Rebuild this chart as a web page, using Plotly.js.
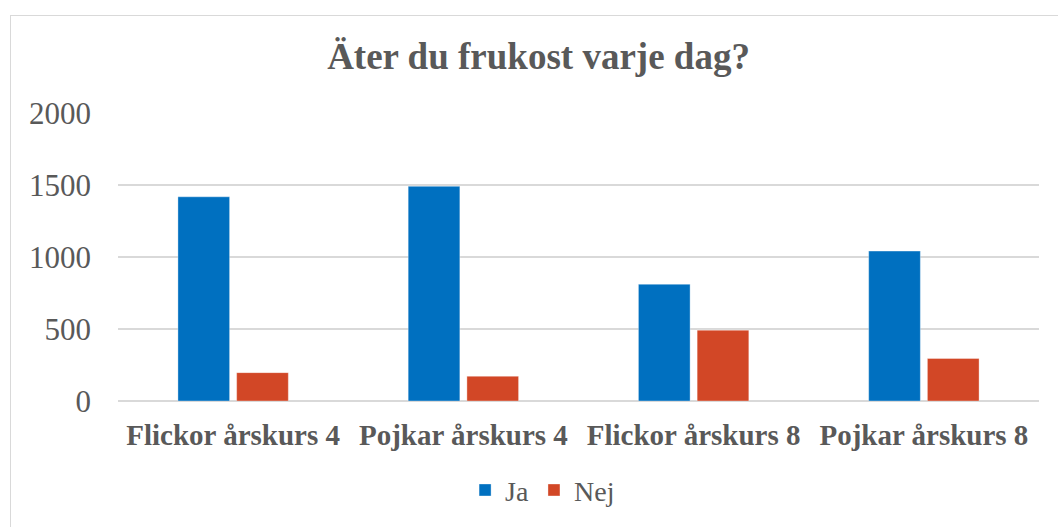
<!DOCTYPE html>
<html>
<head>
<meta charset="utf-8">
<script src="https://cdn.plot.ly/plotly-3.0.1.min.js"></script>
<style>
  html, body { margin: 0; padding: 0; background: #fff; }
  #wrap { position: relative; width: 1058px; height: 527px; overflow: hidden; }
  #chart { position: absolute; left: 0; top: 0; width: 1058px; height: 527px; }
  #frame { position: absolute; left: 10px; top: 15px; width: 1060px; height: 520px;
           border-left: 1.5px solid #d9d9d9; border-top: 1.5px solid #d9d9d9; pointer-events: none; }
</style>
</head>
<body>
<div id="wrap">
  <div id="chart"></div>
  <div id="frame"></div>
</div>
<script>
const categories = ["Flickor årskurs 4", "Pojkar årskurs 4", "Flickor årskurs 8", "Pojkar årskurs 8"];
const jaValues = [1418, 1491, 811, 1041];
const nejValues = [197, 172, 492, 295];
const yTicks = [0, 500, 1000, 1500, 2000];

const font = "Times New Roman, Liberation Serif, Times, DejaVu Serif, serif";
const gray = "#595959";

const traces = [
  { type: "bar", name: "Ja", x: categories, y: jaValues,
    marker: { color: "#0070C0", line: { color: "rgba(255,255,255,0.35)", width: 1 } } },
  { type: "bar", name: "Nej", x: categories, y: nejValues,
    marker: { color: "#D24726", line: { color: "rgba(255,255,255,0.35)", width: 1 } } }
];

const layout = {
  width: 1058, height: 527,
  paper_bgcolor: "rgba(0,0,0,0)", plot_bgcolor: "#fff",
  font: { family: font, color: gray },
  margin: { l: 118, r: 19, t: 113, b: 126 },
  barmode: "group", bargap: 0.49, bargroupgap: 0.12,
  title: { text: "<b>Äter du frukost varje dag?</b>", font: { family: font, size: 37, color: gray },
           x: 0.509, xanchor: "center", y: 0.893, yanchor: "middle" },
  xaxis: { type: "category", tickfont: { family: font, size: 29, color: gray },
           showgrid: false, showline: false, ticks: "", zeroline: false,
           ticklabelstandoff: 14,
           tickprefix: "<b>", ticksuffix: "</b>" },
  yaxis: { range: [0, 2000], tickvals: yTicks, ticktext: yTicks.map(String),
           tickfont: { family: font, size: 31, color: gray },
           showgrid: true, gridcolor: "#d9d9d9", gridwidth: 1.5,
           zeroline: true, zerolinecolor: "#d9d9d9", zerolinewidth: 1.5,
           ticklabelstandoff: 26,
           showline: false, ticks: "", ticklen: 0, automargin: false },
  showlegend: true,
  legend: { orientation: "h", x: 0.461, xanchor: "center", y: -0.31, yanchor: "middle",
            font: { family: font, size: 28, color: gray }, itemwidth: 30, traceorder: "normal" }
};

Plotly.newPlot("chart", traces, layout, { displayModeBar: false, staticPlot: true });
</script>
</body>
</html>
